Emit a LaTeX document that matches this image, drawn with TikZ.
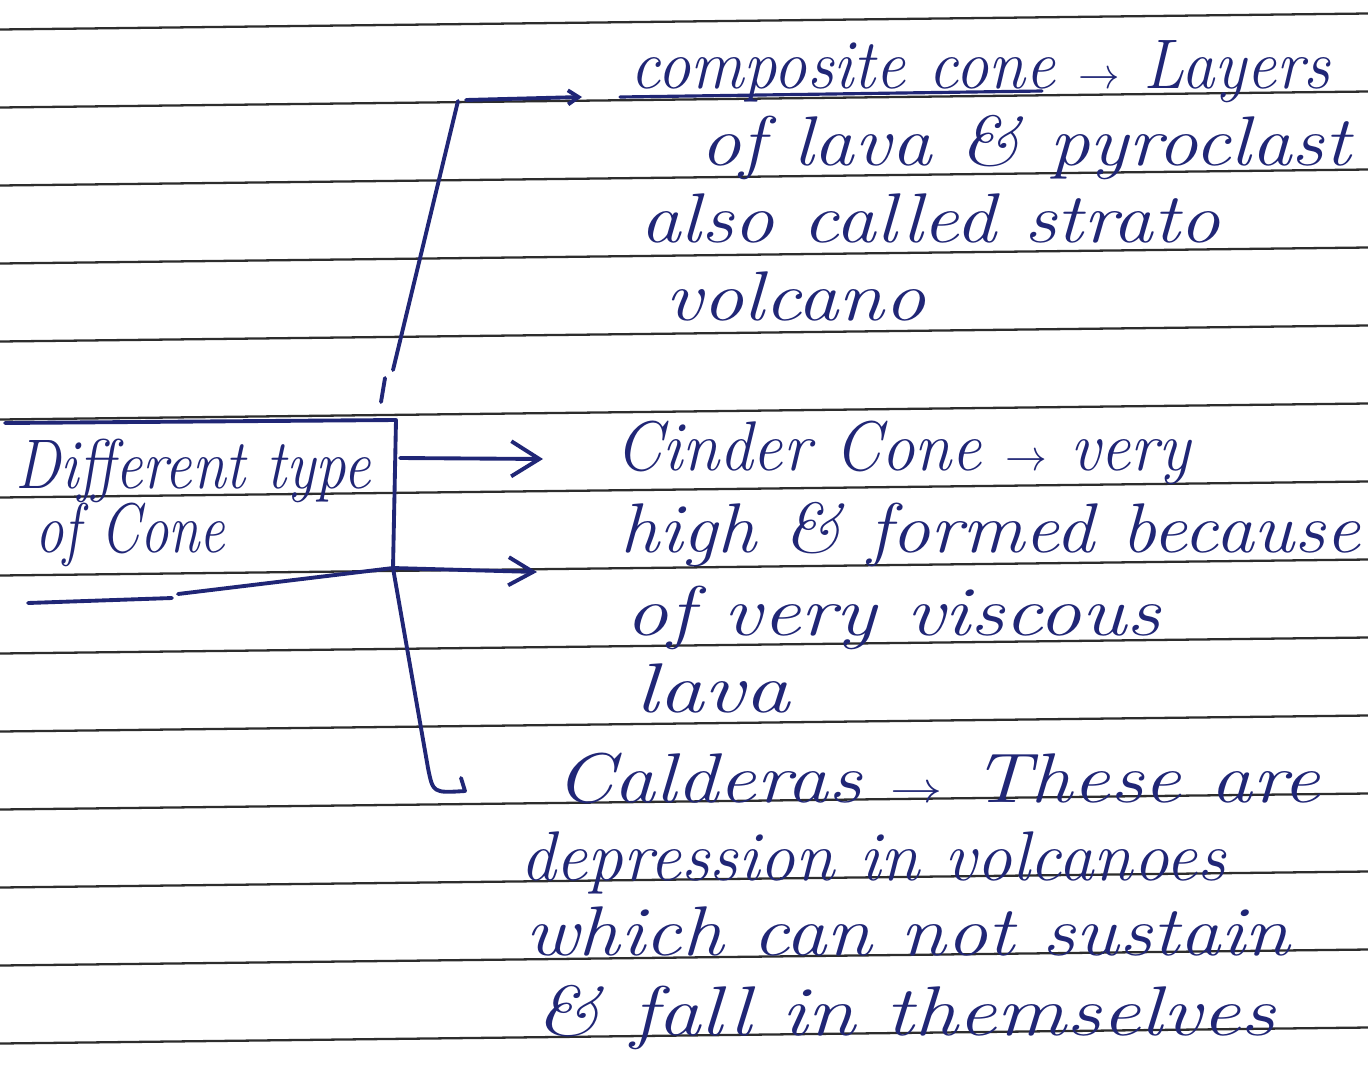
\documentclass[tikz,border=0pt]{standalone}
\usepackage{graphicx}
\usetikzlibrary{arrows.meta}
\definecolor{ink}{RGB}{32,38,118}
\definecolor{ruled}{RGB}{45,45,45}
\newdimen\pxu \pxu=0.02cm
\newcommand\hw[2]{\resizebox{#1\pxu}{\height}{#2}}
\begin{document}
\begin{tikzpicture}[x=0.02cm,y=-0.02cm,
  inkline/.style={draw=ink, line width=2.2pt, line cap=round, line join=round},
  ruleline/.style={draw=ruled, line width=1.3pt},
  hwtext/.style={text=ink, inner sep=0pt, anchor=base west, font=\fontsize{40}{44}\selectfont\itshape},
  arrbig/.style={inkline, -{Straight Barb[length=16pt,width=20pt,line width=2.2pt]}},
  arrmid/.style={inkline, -{Straight Barb[length=14pt,width=16pt,line width=2.2pt]}},
  arrsmall/.style={inkline, -{Straight Barb[length=6pt,width=8pt,line width=2.2pt]}}]
\useasboundingbox[fill=white] (0,0) rectangle (1368,1082);
% ruled paper
\foreach \k in {0,...,13}
  \draw[ruleline] (0,{29.5+78*\k}) -- (1368,{13.5+78*\k});
% central box
\node[minimum width=7.82cm, minimum height=2.96cm, inner sep=0pt] (box) at (200.5,494) {};
\coordinate (bTL) at (5,423);
\coordinate (bTR) at (396,420);
\coordinate (jn) at (393,568);
\coordinate (bBL) at (178,594);
\draw[inkline] (bTL) -- (bTR) -- (jn) -- (bBL);
\coordinate (ulA) at (28,603);
\coordinate (ulB) at (172,598);
\draw[inkline] (ulA) -- (ulB);
\node[hwtext] (boxA) at (15,488) {\hw{355}{Different type}};
\node[hwtext] (boxB) at (35,552) {\hw{190}{of Cone}};
% upper branch
\coordinate (tk1) at (385,378);
\coordinate (tk2) at (381,402);
\draw[inkline] (tk1) -- (tk2);
\coordinate (jt) at (393,370);
\coordinate (c1) at (458,101);
\coordinate (c1s) at (466,100);
\coordinate (e1) at (582,97);
\draw[inkline] (jt) -- (c1);
\draw[arrsmall] (c1s) -- (e1);
% middle arrows
\coordinate (a1s) at (400,458);
\coordinate (a1e) at (543,459);
\draw[arrbig] (a1s) -- (a1e);
\coordinate (a2e) at (537,572);
\draw[arrmid] (jn) -- (a2e);
% lower branch
\coordinate (lb1) at (428,768);
\coordinate (lb2) at (465,791);
\coordinate (lb3) at (461,778);
\draw[inkline] (jn) -- (lb1) .. controls (433,793) .. (lb2) -- (lb3);
% block 1
\node[hwtext] (t1a) at (630,88) {\hw{700}{composite cone $\rightarrow$ Layers}};
\coordinate (u1a) at (620,97);
\coordinate (u1b) at (1042,91);
\draw[inkline, line width=1.8pt] (u1a) -- (u1b);
\node[hwtext] (t1b) at (700,165) {\hw{650}{of lava \& pyroclast}};
\node[hwtext] (t1c) at (640,242) {\hw{580}{also called strato}};
\node[hwtext] (t1d) at (665,320) {\hw{260}{volcano}};
% block 2
\node[hwtext] (t2a) at (615,470) {\hw{575}{Cinder Cone $\rightarrow$ very}};
\node[hwtext] (t2b) at (620,552) {\hw{740}{high \& formed because}};
\node[hwtext] (t2c) at (625,635) {\hw{535}{of very viscous}};
\node[hwtext] (t2d) at (635,712) {\hw{155}{lava}};
% block 3
\node[hwtext] (t3a) at (555,802) {\hw{765}{Calderas $\rightarrow$ These are}};
\node[hwtext] (t3b) at (520,880) {\hw{705}{depression in volcanoes}};
\node[hwtext] (t3c) at (525,955) {\hw{765}{which can not sustain}};
\node[hwtext] (t3d) at (535,1035) {\hw{740}{\& fall in themselves}};
\end{tikzpicture}
\end{document}
